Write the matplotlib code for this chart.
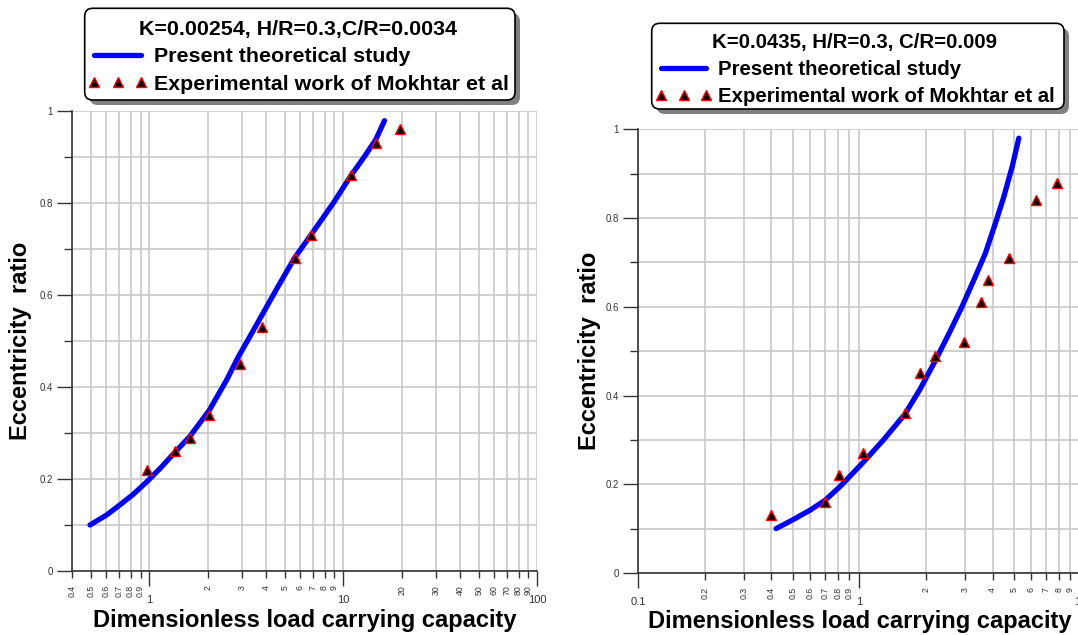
import numpy as np
import matplotlib
matplotlib.use('Agg')
import matplotlib.pyplot as plt
import matplotlib.patches as mpatches
import matplotlib.transforms as mtransforms
from matplotlib.ticker import FixedLocator, FixedFormatter

plt.rcParams['font.family'] = ['Liberation Sans', 'DejaVu Sans']

# ---- left panel data ----
left_title = 'K=0.00254, H/R=0.3,C/R=0.0034'
left_theory_x = [0.494, 0.603, 0.706, 0.827, 0.970, 1.136, 1.36, 1.62, 2.04, 2.50, 2.87,
                 3.30, 3.80, 4.60, 5.59, 6.79, 8.88, 10.96, 12.8, 14.7, 16.3]
left_theory_y = [0.100, 0.122, 0.144, 0.167, 0.194, 0.223, 0.259, 0.293, 0.350, 0.415, 0.465,
                 0.510, 0.556, 0.618, 0.680, 0.730, 0.800, 0.860, 0.900, 0.938, 0.979]
left_exp_x = [0.97, 1.36, 1.62, 2.04, 2.94, 3.8, 5.6, 6.8, 11.0, 14.7, 19.6]
left_exp_y = [0.22, 0.26, 0.29, 0.34, 0.45, 0.53, 0.68, 0.73, 0.86, 0.93, 0.96]
left_major = [1, 10, 100]
left_major_labels = ['1', '10', '100']
left_minor = [0.4, 0.5, 0.6, 0.7, 0.8, 0.9, 2, 3, 4, 5, 6, 7, 8, 9,
              20, 30, 40, 50, 60, 70, 80, 90]
left_minor_labels = ['0.4', '0.5', '0.6', '0.7', '0.8', '0.9', '2', '3', '4', '5', '6', '7', '8', '9',
                     '20', '30', '40', '50', '60', '70', '80', '90']

# ---- right panel data ----
right_title = 'K=0.0435, H/R=0.3, C/R=0.009'
right_theory_x = [0.42, 0.50, 0.60, 0.70, 0.818, 1.043, 1.285, 1.606, 1.884, 2.197, 2.532,
                  2.91, 3.29, 3.71, 4.12, 4.50, 4.91, 5.26]
right_theory_y = [0.100, 0.120, 0.142, 0.164, 0.195, 0.250, 0.300, 0.358, 0.415, 0.477, 0.538,
                  0.600, 0.660, 0.720, 0.788, 0.848, 0.916, 0.980]
right_exp_x = [0.40, 0.70, 0.81, 1.04, 1.61, 1.88, 2.20, 2.96, 3.53, 3.82, 4.75, 6.28, 7.85]
right_exp_y = [0.13, 0.16, 0.22, 0.27, 0.36, 0.45, 0.49, 0.52, 0.61, 0.66, 0.71, 0.84, 0.88]
right_major = [0.1, 1, 10]
right_major_labels = ['0.1', '1', '10']
right_minor = [0.2, 0.3, 0.4, 0.5, 0.6, 0.7, 0.8, 0.9, 2, 3, 4, 5, 6, 7, 8, 9]
right_minor_labels = ['0.2', '0.3', '0.4', '0.5', '0.6', '0.7', '0.8', '0.9',
                      '2', '3', '4', '5', '6', '7', '8', '9']

y_major = [0, 0.2, 0.4, 0.6, 0.8, 1.0]
y_major_labels = ['0', '0.2', '0.4', '0.6', '0.8', '1']
y_minor = [0.1, 0.3, 0.5, 0.7, 0.9]

theory_label = 'Present theoretical study'
exp_label = 'Experimental work of Mokhtar et al'
xlabel = 'Dimensionless load carrying capacity'
ylabel = 'Eccentricity  ratio'

W, H = 1078, 635
fig = plt.figure(figsize=(W / 100, H / 100), dpi=100)
ident = mtransforms.IdentityTransform()


def px_axes(x0, x1, ytop, ybot):
    return fig.add_axes([x0 / W, 1 - ybot / H, (x1 - x0) / W, (ybot - ytop) / H])


def setup(ax, xlim, major, major_labels, minor, minor_labels, ylab_x):
    ax.set_xscale('log')
    ax.set_xlim(*xlim)
    ax.set_ylim(0, 1)
    ax.xaxis.set_major_locator(FixedLocator(major))
    ax.xaxis.set_major_formatter(FixedFormatter(major_labels))
    ax.xaxis.set_minor_locator(FixedLocator(minor))
    ax.xaxis.set_minor_formatter(FixedFormatter(minor_labels))
    ax.yaxis.set_major_locator(FixedLocator(y_major))
    ax.yaxis.set_major_formatter(FixedFormatter(y_major_labels))
    ax.yaxis.set_minor_locator(FixedLocator(y_minor))
    ax.grid(True, which='both', color='#c8c8c8', lw=1.2)
    ax.set_axisbelow(True)
    for s in ['top', 'right']:
        ax.spines[s].set_visible(False)
    for s in ['left', 'bottom']:
        ax.spines[s].set_color('#333333')
        ax.spines[s].set_linewidth(1.2)
    ax.tick_params(axis='y', which='major', length=11, width=1, color='#333333',
                   labelsize=7, labelcolor='#333333', pad=3)
    ax.tick_params(axis='y', which='minor', length=5.5, width=1, color='#333333')
    ax.tick_params(axis='x', which='major', length=11, width=1, color='#333333',
                   labelsize=8, labelcolor='#333333', pad=6)
    ax.tick_params(axis='x', which='minor', length=5, width=1, color='#333333',
                   labelsize=6.3, labelcolor='#333333', labelrotation=90, pad=5)
    ax.set_xlabel(xlabel, fontsize=17, fontweight='bold')
    ax.set_ylabel(ylabel, fontsize=17, fontweight='bold')
    ax.xaxis.set_label_coords(0.5, -0.083)
    ax.yaxis.set_label_coords(ylab_x, 0.5)


def legend_box(x0, y0, x1, y1):
    # rounded frame with grey drop shadow, image pixel coords
    sh = mpatches.FancyBboxPatch((x0 + 5, H - y1 - 5), x1 - x0, y1 - y0,
                                 boxstyle='round,pad=0,rounding_size=8',
                                 transform=ident, fc='#808080', ec='none', zorder=1)
    bx = mpatches.FancyBboxPatch((x0, H - y1), x1 - x0, y1 - y0,
                                 boxstyle='round,pad=0,rounding_size=8',
                                 transform=ident, fc='white', ec='black', lw=1.2, zorder=2)
    fig.add_artist(sh)
    fig.add_artist(bx)


def draw(ax, tx, ty, ex, ey, title, lx, ly, fsize, spacing):
    l1, = ax.plot(tx, ty, color='#0000ff', lw=3.8, solid_capstyle='round', zorder=3)
    l2, = ax.plot(ex, ey, ls='none', marker='^', ms=6.5, mfc='black', mec='red', mew=1,
                  zorder=4, clip_on=False)
    leg = fig.legend([l1, l2], [theory_label, exp_label], loc='upper left',
                     bbox_to_anchor=(lx / W, 1 - ly / H), frameon=False, numpoints=3,
                     prop={'weight': 'bold', 'size': fsize}, title=title,
                     title_fontproperties={'weight': 'bold', 'size': fsize},
                     handlelength=2.8, handletextpad=0.28, labelspacing=spacing,
                     borderpad=0, borderaxespad=0)
    leg.set_zorder(5)


ax1 = px_axes(72.2, 537.3, 111, 571)
setup(ax1, (0.4, 100), left_major, left_major_labels, left_minor, left_minor_labels, -0.086)
legend_box(84.7, 8.3, 515, 100)
draw(ax1, left_theory_x, left_theory_y, left_exp_x, left_exp_y, left_title, 88, 19.5, 15.4, 0.4)

ax2 = px_axes(638.3, 1080.5, 129.3, 573)
setup(ax2, (0.1, 10), right_major, right_major_labels, right_minor, right_minor_labels, -0.084)
legend_box(651.7, 23.3, 1064, 109)
draw(ax2, right_theory_x, right_theory_y, right_exp_x, right_exp_y, right_title, 655, 33, 14.7, 0.39)

fig.savefig('out.png', dpi=100)
